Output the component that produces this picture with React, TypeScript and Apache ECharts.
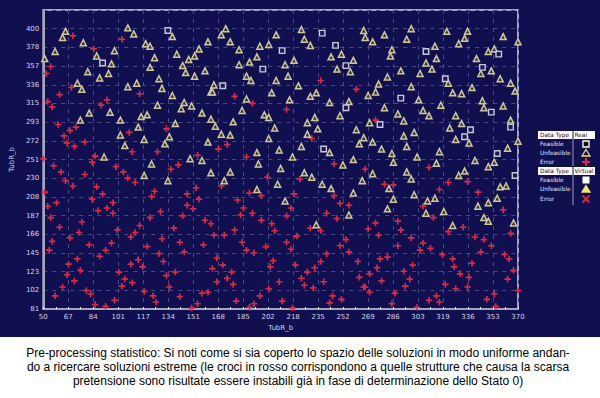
import React, { useEffect, useRef } from "react";
import * as echarts from "echarts";

const xTickLabels = ["50","67","84","101","117","134","151","168","185","202","218","235","252","269","286","303","319","336","353","370"];
const yTickLabels = ["81","102","123","145","166","187","208","230","251","272","293","315","336","357","378","400"];
const xMin = 50;
const xMax = 370;
const yMin = 81;
const yLastTick = 400;

const captionLines = [
  "Pre-processing statistico: Si noti come si sia coperto lo spazio delle soluzioni in modo uniforme andan-",
  "do a ricercare soluzioni estreme (le croci in rosso corrispondono a quelle strutture che causa la scarsa",
  "pretensione sono risultate essere instabili già in fase di determinazione dello Stato 0)",
];

// Real data - Feasible (squares)
const feasibleReal: number[][] = [
  [134,398],[90,361],[238,395],[247,381],[211,375],[198,354],[171,335],[254,358],[254,310],[277,291],
  [239,263],[291,321],[308,374],[357,371],[346,356],[321,343],[352,305],[338,285],[334,277],[365,288],
  [356,258],[368,233],
];

// Real data - Unfeasible (triangles)
const unfeasibleReal: number[][] = [
  [65,397],[63,390],[77,384],[58,374],[51,366],[86,369],[96,360],[80,351],[94,349],[88,344],
  [73,338],[76,331],[107,401],[111,394],[98,375],[119,383],[122,380],[125,367],[122,356],[107,334],
  [113,338],[128,343],[130,332],[137,391],[140,371],[148,365],[152,369],[155,377],[161,385],[144,358],
  [146,350],[152,346],[159,352],[163,328],[137,324],[127,313],[145,316],[143,309],[150,312],[157,304],
  [81,304],[95,305],[75,296],[102,296],[116,300],[120,302],[114,288],[139,292],[102,279],[118,274],
  [105,267],[132,269],[135,277],[161,271],[91,254],[123,246],[149,252],[157,250],
  [118,233],[134,227],[163,236],
  [195,246],[176,237],[172,227],[210,241],[208,223],[226,236],[231,231],[238,223],[244,218],[252,245],
  [259,251],[265,227],[259,213],[194,217],[213,204],[234,177],[256,188],
  [286,248],[315,247],[341,250],[350,243],[354,248],[272,235],[295,237],[298,229],[283,218],[286,206],
  [282,195],[300,211],[309,204],[314,207],[308,190],[320,192],[330,233],[334,238],[358,220],[362,221],
  [356,207],[343,198],[350,202],[347,185],[350,181],[367,179],[326,176],
  [173,400],[170,393],[176,385],[182,376],[189,362],[194,368],[196,380],[202,382],[207,393],[224,399],
  [226,388],[230,381],[182,359],[213,359],[219,364],[215,346],[187,346],[190,341],[207,341],[165,336],
  [164,328],[204,327],[187,320],[184,307],[216,319],[222,335],[230,323],[234,327],[243,316],[251,371],
  [244,368],[259,364],[248,354],[257,351],[266,398],[267,390],[272,385],[280,393],[285,376],[284,369],
  [291,352],[282,345],[276,337],[274,328],[269,324],[256,317],[250,301],[280,310],[289,303],[163,297],
  [166,289],[178,294],[199,302],[202,299],[206,287],[228,293],[233,299],[235,286],[170,280],[176,279],
  [202,275],[228,280],[224,266],[209,262],[194,259],[218,254],[243,259],[261,285],[266,276],[263,269],
  [272,271],[270,293],[278,263],[285,258],[293,278],
  [298,400],[322,397],[336,397],[334,389],[330,383],[295,388],[314,380],[315,366],[308,361],[312,354],
  [304,349],[342,366],[350,374],[354,377],[360,391],[370,385],[345,349],[352,352],[358,343],[365,338],
  [368,329],[298,334],[323,338],[326,327],[332,326],[339,333],[346,318],[347,310],[360,312],[303,319],
  [318,313],[306,307],[310,301],[328,301],[293,295],[300,282],[324,287],[332,292],[328,274],[337,270],
  [365,296],[295,266],[302,254],[317,260],[363,264],[370,272],
];

// Real data - Error (red crosses)
const errorReal: number[][] = [
  [70,392],[84,377],[103,388],[55,357],[52,349],[69,333],[61,325],[93,319],[89,313],[53,317],
  [56,311],[115,326],[60,291],[68,284],[72,288],[64,278],[66,270],[71,266],[78,271],[108,282],
  [133,286],[110,260],[127,260],[85,255],[83,248],[50,252],[57,244],[99,243],[141,245],[154,256],
  [136,240],
  [62,237],[65,227],[70,221],[78,234],[86,220],[90,212],[104,237],[107,230],[112,225],[51,214],
  [53,198],[59,202],[55,185],[61,174],[56,158],[54,148],[68,162],[67,132],[73,138],[76,180],
  [74,168],[83,206],[87,193],[93,196],[97,202],[97,190],[100,171],[81,154],[88,141],[92,148],
  [96,156],[75,125],[66,120],[71,113],[63,106],[58,96],[79,102],[82,98],[85,86],[92,84],
  [98,91],[103,107],[105,115],[101,123],[109,132],[114,137],[115,176],[109,163],[112,168],[110,111],
  [117,129],[118,101],[124,96],[126,89],[120,152],[122,185],[123,209],[125,215],[129,192],[130,161],
  [128,144],[131,135],[133,119],[135,106],[139,123],[138,173],[142,157],[145,146],[147,212],[147,199],
  [144,187],[151,195],[153,219],[155,206],[158,154],[159,182],[163,178],[157,99],[161,100],[154,87],
  [142,95],[150,82],
  [246,246],[201,231],[223,229],[170,221],[189,213],[197,210],[181,205],[219,212],[246,210],[250,201],
  [256,199],[185,196],[217,196],[241,190],[191,190],[183,188],[214,187],[248,184],[197,182],[204,178],
  [179,171],[206,170],[230,173],[237,170],[165,165],[172,165],[221,164],[254,160],[184,157],[214,157],
  [250,153],[187,148],[200,152],[217,149],[241,144],[256,146],[192,145],[167,139],[205,136],[237,135],
  [171,131],[203,129],[220,131],[233,128],[262,135],[164,127],[177,123],[228,123],[174,116],[224,116],
  [263,117],[167,112],[209,112],[239,112],[178,109],[226,108],[266,106],[202,104],[232,105],[196,96],
  [245,96],[251,92],[180,90],[211,90],[243,88],[192,87],[189,83],[218,82],
  [267,240],[310,242],[280,223],[286,222],[323,225],[336,226],[317,217],[343,214],[306,198],[360,194],
  [313,185],[274,179],[269,172],[289,181],[291,171],[276,165],[298,162],[323,169],[333,174],[365,167],
  [341,163],[347,160],[352,153],[289,153],[306,156],[304,148],[311,150],[345,146],[319,143],[361,143],
  [364,138],[277,138],[282,140],[326,138],[339,133],[299,131],[327,129],[275,128],[367,125],[293,124],
  [270,121],[331,121],[337,117],[297,115],[278,113],[363,115],[321,109],[267,106],[294,107],[328,104],
  [336,106],[270,100],[287,99],[370,102],[315,96],[354,98],[310,91],[317,89],[349,92],[285,87],
  [302,83],[355,84],
  [237,341],[261,331],[179,323],[191,315],[214,308],[274,296],[231,275],[174,268],[168,263],[187,254],
];

const NAVY = "#101050";
const plusPath = "path://M3,0H5V3H8V5H5V8H3V5H0V3H3Z";

export default function App() {
  const ref = useRef<HTMLDivElement>(null);
  useEffect(() => {
    if (!ref.current) return;
    const chart = echarts.init(ref.current, null, { renderer: "svg" });
    const step = (yLastTick - yMin) / (yTickLabels.length - 1);
    const yMaxExt = yLastTick + step;
    const labelFont = { color: "#d4d4e4", fontSize: 7, fontFamily: "DejaVu Sans" };
    const gridLine = { show: true, lineStyle: { color: "#4a4a82", type: [4, 5] as any, width: 1 } };
    const legendX = 538;
    const legendW = 57;
    const divX = 573;
    const symX = 586;
    const rowsReal = [144, 153, 162];
    const rowsVirt = [180, 189, 199];
    const lfont = { fontSize: 5.8, fontFamily: "DejaVu Sans", textVerticalAlign: "middle" };
    const labelRow = (t: string, y: number) => ({
      type: "text", x: 540, y, style: { text: t, fill: "#e6e6ee", ...lfont },
    });
    const header = (y: number, t2: string) => [
      { type: "rect", shape: { x: legendX, y: y - 4, width: legendW, height: 8 }, style: { fill: "#ffffff" } },
      { type: "line", shape: { x1: divX, y1: y - 4, x2: divX, y2: y + 4 }, style: { stroke: NAVY, lineWidth: 1 } },
      { type: "text", x: 540, y, style: { text: "Data Type", fill: NAVY, ...lfont } },
      { type: "text", x: 574.5, y, style: { text: t2, fill: NAVY, ...lfont } },
    ];
    const tri = (cx: number, cy: number, fill: string, stroke: string) => ({
      type: "polygon", shape: { points: [[cx, cy - 3.5], [cx + 4, cy + 3], [cx - 4, cy + 3]] }, style: { fill, stroke, lineWidth: 1.3 },
    });

    const graphics: any[] = [
      { type: "rect", shape: { x: 0, y: 337, width: 600, height: 61 }, style: { fill: "#ffffff" }, z: 10 },
      ...captionLines.map((t, i) => ({
        type: "text", x: 298, y: 353 + i * 14, z: 11,
        style: { text: t, fill: "#000000", fontSize: 12, fontFamily: "Liberation Sans", textAlign: "center", textVerticalAlign: "middle" },
      })),
      ...header(135, "Real"),
      labelRow("Feasible", rowsReal[0]),
      labelRow("Unfeasible", rowsReal[1]),
      labelRow("Error", rowsReal[2]),
      { type: "line", shape: { x1: divX, y1: 139, x2: divX, y2: 166 }, style: { stroke: "#9a9ab4", lineWidth: 1 } },
      { type: "rect", shape: { x: symX - 3, y: rowsReal[0] - 3, width: 6, height: 6 }, style: { fill: "#101010", stroke: "#ffffff", lineWidth: 1.3 } },
      tri(symX, rowsReal[1], "#101050", "#e8e070"),
      { type: "line", shape: { x1: symX - 4, y1: rowsReal[2], x2: symX + 4, y2: rowsReal[2] }, style: { stroke: "#e02840", lineWidth: 2 } },
      { type: "line", shape: { x1: symX, y1: rowsReal[2] - 4, x2: symX, y2: rowsReal[2] + 4 }, style: { stroke: "#e02840", lineWidth: 2 } },
      ...header(171, "Virtual"),
      labelRow("Feasible", rowsVirt[0]),
      labelRow("Unfeasible", rowsVirt[1]),
      labelRow("Error", rowsVirt[2]),
      { type: "line", shape: { x1: divX, y1: 175, x2: divX, y2: 205 }, style: { stroke: "#9a9ab4", lineWidth: 1 } },
      { type: "rect", shape: { x: symX - 3.5, y: rowsVirt[0] - 3.5, width: 7, height: 7 }, style: { fill: "#ffffff" } },
      tri(symX, rowsVirt[1], "#f0e870", "#f0e870"),
      { type: "line", shape: { x1: symX - 3.5, y1: rowsVirt[2] - 3.5, x2: symX + 3.5, y2: rowsVirt[2] + 3.5 }, style: { stroke: "#e02840", lineWidth: 1.8 } },
      { type: "line", shape: { x1: symX - 3.5, y1: rowsVirt[2] + 3.5, x2: symX + 3.5, y2: rowsVirt[2] - 3.5 }, style: { stroke: "#e02840", lineWidth: 1.8 } },
    ];

    chart.setOption({
      animation: false,
      backgroundColor: NAVY,
      grid: { left: 26, right: 82, top: 10, bottom: 89, show: true, borderColor: "#a4a4c0", borderWidth: 2, backgroundColor: "transparent" },
      xAxis: [
        { type: "value", min: xMin, max: xMax, show: false, position: "top" },
        {
          type: "value", min: 0, max: xTickLabels.length - 1, interval: 1, position: "bottom",
          name: "TubR_b", nameLocation: "middle", nameGap: 13,
          nameTextStyle: { color: "#d4d4e4", fontSize: 7, fontFamily: "DejaVu Sans" },
          axisLine: { show: true, lineStyle: { color: "#a4a4c0", width: 2 } },
          axisTick: { show: true, inside: true, length: 2, lineStyle: { color: "#ffffff" } },
          minorTick: { show: true, splitNumber: 2, length: 2, lineStyle: { color: "#ffffff" } },
          axisLabel: { ...labelFont, margin: 4, formatter: (v: number) => xTickLabels[Math.round(v)] ?? "" },
          splitLine: gridLine,
        },
      ],
      yAxis: [
        { type: "value", min: yMin, max: yMaxExt, show: false, position: "right" },
        {
          type: "value", min: 0, max: yTickLabels.length, interval: 1, position: "left",
          name: "TubR_b", nameLocation: "middle", nameGap: 17, nameRotate: 90,
          nameTextStyle: { color: "#d4d4e4", fontSize: 7, fontFamily: "DejaVu Sans" },
          axisLine: { show: true, lineStyle: { color: "#a4a4c0", width: 2 } },
          axisTick: { show: false },
          axisLabel: { ...labelFont, margin: 4, formatter: (v: number) => yTickLabels[Math.round(v)] ?? "" },
          splitLine: gridLine,
        },
      ],
      series: [
        {
          type: "scatter", name: "Error", xAxisIndex: 0, yAxisIndex: 0, data: errorReal,
          symbol: plusPath, symbolSize: 6.5, itemStyle: { color: "#e02840", opacity: 1 },
        },
        {
          type: "scatter", name: "Unfeasible", xAxisIndex: 0, yAxisIndex: 0, data: unfeasibleReal,
          symbol: "triangle", symbolSize: [6, 6], itemStyle: { color: "#34342e", borderColor: "#cfc898", borderWidth: 1.5, opacity: 1 },
        },
        {
          type: "scatter", name: "Feasible", xAxisIndex: 0, yAxisIndex: 0, data: feasibleReal,
          symbol: "rect", symbolSize: 5.5, itemStyle: { color: "#1a1a50", borderColor: "#c8c8dc", borderWidth: 1.4, opacity: 1 },
        },
      ],
      graphic: graphics,
    });
    return () => chart.dispose();
  }, []);
  return <div ref={ref} style={{ position: "fixed", left: 0, top: 0, width: 600, height: 398 }} />;
}
